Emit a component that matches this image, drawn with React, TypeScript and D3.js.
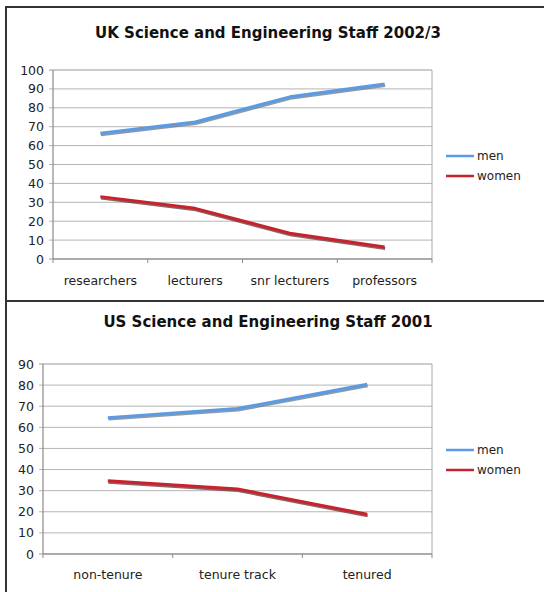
import React from "react";
import * as d3 from "d3";

const ukCategories = ["researchers", "lecturers", "snr lecturers", "professors"];
const ukMen = [66.5, 72.5, 85.8, 92.6];
const ukWomen = [33, 26.8, 13.6, 6.4];
const ukTicks = [0, 10, 20, 30, 40, 50, 60, 70, 80, 90, 100];

const usCategories = ["non-tenure", "tenure track", "tenured"];
const usMen = [64.6, 68.9, 80.4];
const usWomen = [34.7, 30.8, 18.8];
const usTicks = [0, 10, 20, 30, 40, 50, 60, 70, 80, 90];

const seriesNames = ["men", "women"];

const FONT = "'DejaVu Sans', Verdana, sans-serif";

type PanelProps = {
  title: string;
  titleY: number;
  categories: string[];
  men: number[];
  women: number[];
  ticks: number[];
  x0: number;
  x1: number;
  yTop: number;
  yBottom: number;
  catY: number;
  legendY: number;
};

function Panel(p: PanelProps) {
  const yMax = p.ticks[p.ticks.length - 1];
  const x = d3.scaleBand<string>().domain(p.categories).range([p.x0, p.x1]).paddingInner(0).paddingOuter(0);
  const y = d3.scaleLinear().domain([0, yMax]).range([p.yBottom, p.yTop]);
  const cx = (c: string) => (x(c) as number) + x.bandwidth() / 2;
  const line = d3
    .line<number>()
    .x((_, i) => cx(p.categories[i]))
    .y((d) => y(d));
  const boundaries = p.categories.map((c) => x(c) as number).concat([p.x1]);
  const series = [
    { name: seriesNames[0], vals: p.men, color: "#5b9be3", shadow: "#6f7f95" },
    { name: seriesNames[1], vals: p.women, color: "#c8232c", shadow: "#6e3a3c" },
  ];
  return (
    <g>
      <text x={268} y={p.titleY} textAnchor="middle" fontFamily={FONT} fontWeight="bold" fontSize={15} fill="#111">
        {p.title}
      </text>
      {p.ticks.map((t) => (
        <g key={t}>
          <line x1={p.x0 - 4} x2={p.x1} y1={y(t)} y2={y(t)} stroke={t === 0 || t === yMax ? "#999" : "#b5b5b5"} strokeWidth={1} />
          <text x={p.x0 - 9} y={y(t)} dy="0.36em" textAnchor="end" fontFamily={FONT} fontSize={12.5} fill="#222">
            {t}
          </text>
        </g>
      ))}
      <line x1={p.x0} x2={p.x0} y1={p.yTop} y2={p.yBottom} stroke="#8a8a8a" strokeWidth={1.2} />
      <line x1={p.x1} x2={p.x1} y1={p.yTop} y2={p.yBottom} stroke="#aaa" strokeWidth={1} />
      <line x1={p.x0} x2={p.x1} y1={p.yBottom} y2={p.yBottom} stroke="#8a8a8a" strokeWidth={1.2} />
      {boundaries.map((b, i) => (
        <line key={i} x1={b} x2={b} y1={p.yBottom} y2={p.yBottom + 4} stroke="#8a8a8a" strokeWidth={1} />
      ))}
      {p.categories.map((c) => (
        <text key={c} x={cx(c)} y={p.catY} textAnchor="middle" fontFamily={FONT} fontSize={12.5} fill="#222">
          {c}
        </text>
      ))}
      {series.map((s) => (
        <g key={s.name}>
          <path d={line(s.vals) || ""} transform="translate(0.5,1.5)" fill="none" stroke={s.shadow} strokeWidth={3} strokeLinejoin="round" opacity={0.8} />
          <path d={line(s.vals) || ""} fill="none" stroke={s.color} strokeWidth={3} strokeLinejoin="round" />
        </g>
      ))}
      {series.map((s, i) => (
        <g key={s.name} transform={`translate(0,${p.legendY + i * 20})`}>
          <line x1={446} x2={474} y1={0} y2={0} stroke={s.color} strokeWidth={2.5} />
          <text x={477} y={0} dy="0.36em" fontFamily={FONT} fontSize={12} fill="#222">
            {s.name}
          </text>
        </g>
      ))}
    </g>
  );
}

export default function App() {
  return (
    <svg width={544} height={592} style={{ position: "absolute", left: 0, top: 0, background: "#fff" }}>
      <rect x={0} y={0} width={544} height={592} fill="#fff" />
      <Panel
        title="UK Science and Engineering Staff 2002/3"
        titleY={38}
        categories={ukCategories}
        men={ukMen}
        women={ukWomen}
        ticks={ukTicks}
        x0={53}
        x1={432}
        yTop={70}
        yBottom={259}
        catY={285}
        legendY={156}
      />
      <Panel
        title="US Science and Engineering Staff 2001"
        titleY={327}
        categories={usCategories}
        men={usMen}
        women={usWomen}
        ticks={usTicks}
        x0={43}
        x1={432}
        yTop={364}
        yBottom={554}
        catY={579}
        legendY={450}
      />
      <line x1={6} x2={544} y1={7} y2={7} stroke="#333" strokeWidth={2} />
      <line x1={6} x2={6} y1={6} y2={592} stroke="#333" strokeWidth={2} />
      <line x1={6} x2={544} y1={301} y2={301} stroke="#333" strokeWidth={2} />
    </svg>
  );
}
